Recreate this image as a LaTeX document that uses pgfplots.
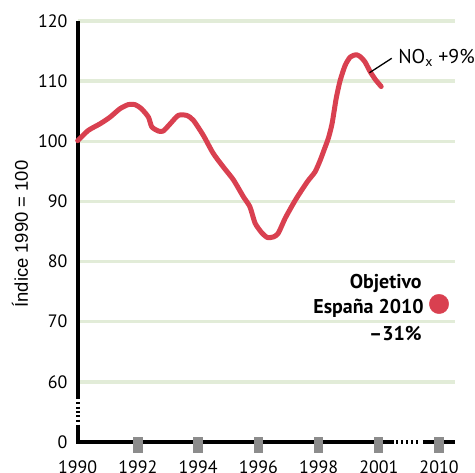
\documentclass[border=0pt]{standalone}
\usepackage{fontspec}
\setmainfont{PT Sans}
\newfontfamily\labfont{Liberation Sans}
\usepackage{pgfplots}
\pgfplotsset{compat=1.18}
\definecolor{nox}{RGB}{217,64,80}
\definecolor{gridg}{RGB}{226,236,216}
\definecolor{tickg}{RGB}{140,140,140}
\begin{document}
\begin{tikzpicture}
\begin{axis}[
  scale only axis, width=377.3bp, height=421bp,
  xmin=0, xmax=12.53, ymin=50, ymax=120,
  axis line style={draw=none},
  xtick={0,2,4,6,8,10,12},
  xticklabels={1990,1992,1994,1996,1998,2001,2010},
  ytick={60,70,...,120},
  yticklabels={60,70,80,90,100,110,120},
  extra y ticks={50}, extra y tick labels={0},
  extra tick style={grid=none},
  major tick length=0pt, tick style={draw=none},
  ymajorgrids, grid style={gridg, line width=3.5bp},
  xticklabel style={anchor=north, inner sep=0pt, yshift=-19bp, font=\fontsize{18}{20}\selectfont},
  yticklabel style={anchor=east, inner sep=0pt, xshift=-10bp, font=\fontsize{18}{20}\selectfont},
  ylabel={Índice 1990 = 100},
  ylabel style={at={(axis description cs:-0.153,0.494)}, anchor=center, inner sep=0pt, font=\labfont\fontsize{18.5}{20}\selectfont},
  clip=false,
]
% axis lines
\draw[line width=4.3bp] (axis cs:0,120) -- (axis cs:0,57.2);
\draw[line width=4.3bp, dash pattern=on 2bp off 2.3bp] (axis cs:0,56.6) -- (axis cs:0,53.2);
\draw[line width=4.3bp, miter limit=4] (axis cs:0,52.9) -- (axis cs:0,50) -- (axis cs:10.49,50);
\draw[line width=4.3bp, dash pattern=on 2.5bp off 2.5bp] (axis cs:10.57,50) -- (axis cs:11.40,50);
\draw[line width=4.3bp] (axis cs:11.46,50) -- (axis cs:12.53,50);
% gray tick blocks
\fill[tickg] (axis cs:2,50) ++(-4.65bp,5bp) rectangle ++(9.3bp,-15.5bp);
\fill[tickg] (axis cs:4,50) ++(-4.65bp,5bp) rectangle ++(9.3bp,-15.5bp);
\fill[tickg] (axis cs:6,50) ++(-4.65bp,5bp) rectangle ++(9.3bp,-15.5bp);
\fill[tickg] (axis cs:8,50) ++(-4.65bp,5bp) rectangle ++(9.3bp,-15.5bp);
\fill[tickg] (axis cs:10,50) ++(-4.65bp,5bp) rectangle ++(9.3bp,-15.5bp);
\fill[tickg] (axis cs:12,50) ++(-4.65bp,5bp) rectangle ++(9.3bp,-15.5bp);
% NOx series
\addplot[nox, line width=5bp, line join=round, line cap=round, smooth, tension=0.4] coordinates {
(0,100.1) (0.35,101.8) (0.74,102.9) (1.07,104.0) (1.40,105.4) (1.68,106.1)
(1.90,106.1) (2.12,105.4) (2.35,104.0) (2.46,102.4) (2.68,101.7) (2.84,101.7)
(3.07,102.9) (3.34,104.3) (3.62,104.3) (3.84,103.5) (4.17,101.0) (4.50,98.0)
(4.84,95.7) (5.17,93.6) (5.50,90.8) (5.72,89.1) (5.89,86.4) (6.11,84.8)
(6.30,84.0) (6.50,84.1) (6.66,84.7) (6.90,87.3) (7.25,90.4) (7.63,93.3)
(7.88,94.9) (8.05,96.8) (8.2,98.8) (8.33,100.6) (8.45,103) (8.58,107)
(8.71,110) (8.88,112.6) (9.05,114.0) (9.25,114.4) (9.40,114.0) (9.54,113.2)
(9.71,111.6) (9.88,110.3) (10.08,109.1)
};
% target 2010
\addplot[only marks, mark=*, mark size=9.7bp, nox, mark options={draw=nox, fill=nox}] coordinates {(12,72.95)};
\draw[line width=1.3bp] (axis cs:9.69,111.4) -- (axis cs:10.43,113.8);
\node[anchor=base west, inner sep=0pt, font=\fontsize{20}{24}\selectfont] at (axis cs:10.64,112.97) {NO\textsubscript{x} +9\%};
\node[anchor=base east, inner sep=0pt, font=\bfseries\fontsize{20}{24}\selectfont] at (axis cs:11.43,75.6) {Objetivo};
\node[anchor=base east, inner sep=0pt, font=\bfseries\fontsize{20}{24}\selectfont] at (axis cs:11.50,71.33) {España 2010};
\node[anchor=base east, inner sep=0pt, font=\bfseries\fontsize{20}{24}\selectfont] at (axis cs:11.43,66.91) {–31\%};
\end{axis}
\pgfresetboundingbox
\path (-77.7bp,-31bp) rectangle (397.3bp,442bp);
\end{tikzpicture}
\end{document}
